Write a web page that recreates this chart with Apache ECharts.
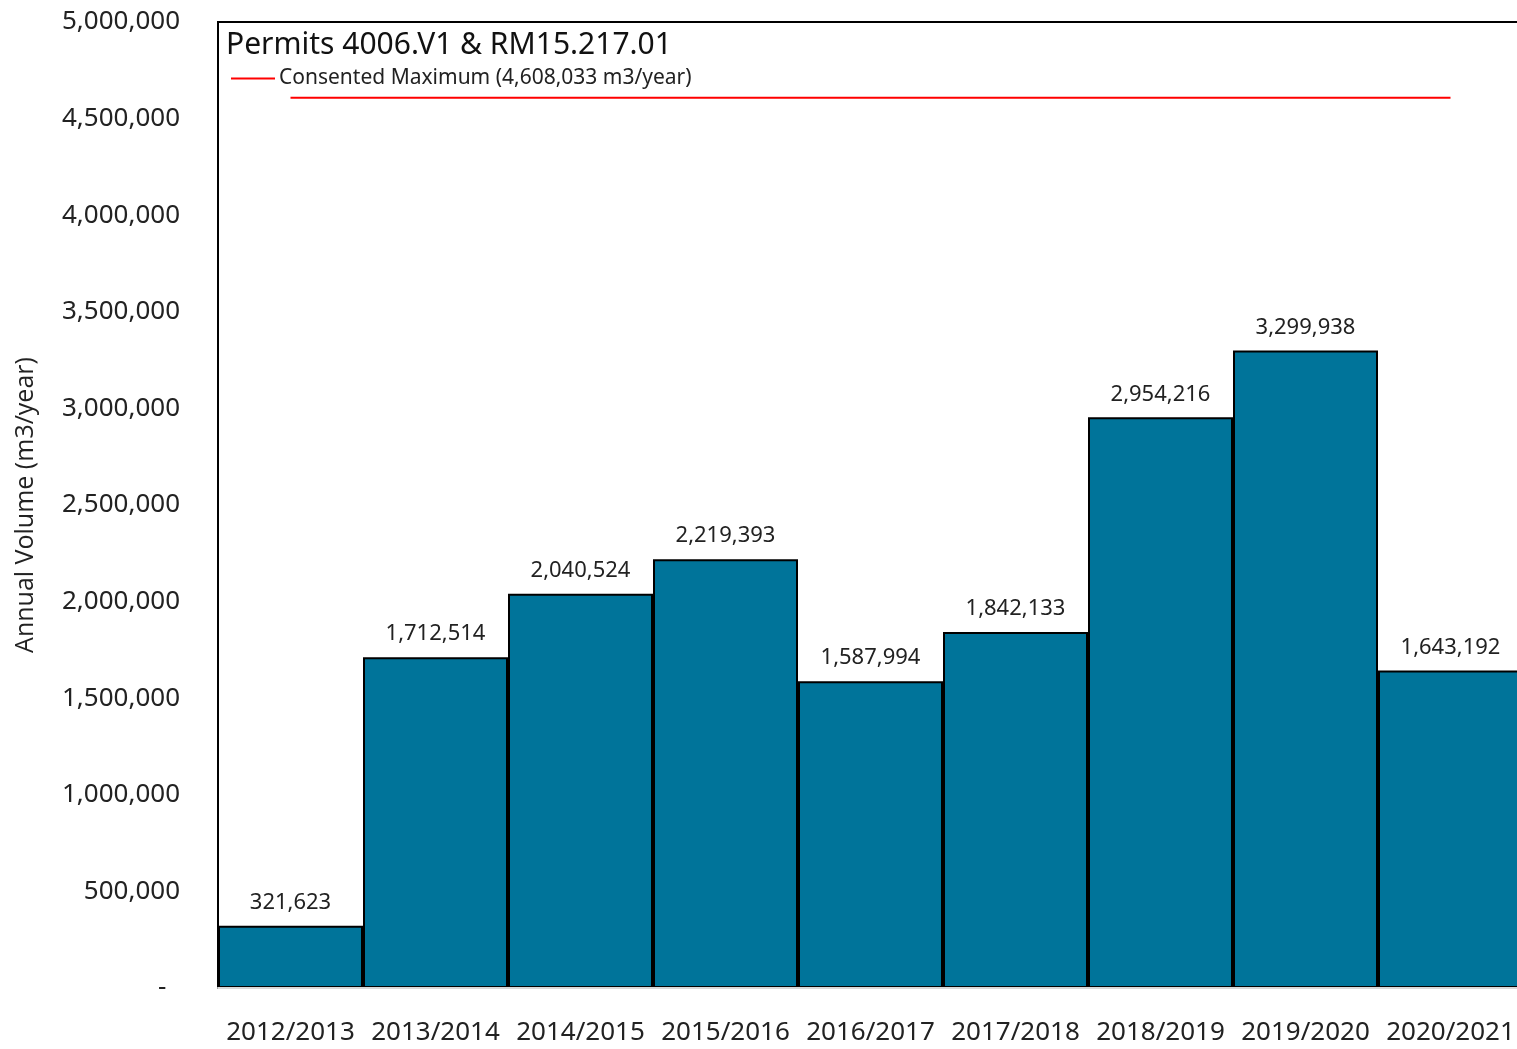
<!DOCTYPE html>
<html>
<head>
<meta charset="utf-8">
<script src="https://cdn.jsdelivr.net/npm/echarts@6/dist/echarts.min.js"></script>
<style>
  html, body { margin: 0; padding: 0; background: #fff; overflow: hidden; }
  #chart { width: 1517px; height: 1049px; }
</style>
</head>
<body>
<div id="chart"></div>
<script>
// Annual abstraction volumes per water year
const years = ['2012/2013', '2013/2014', '2014/2015', '2015/2016', '2016/2017',
               '2017/2018', '2018/2019', '2019/2020', '2020/2021'];
const annualVolume = [321623, 1712514, 2040524, 2219393, 1587994,
                      1842133, 2954216, 3299938, 1643192];
const consentedMax = 4608033;
const consentedLine = years.map(() => consentedMax);

const titleText = 'Permits 4006.V1 & RM15.217.01';
const legendName = 'Consented Maximum (4,608,033 m3/year)';
const yAxisName = 'Annual Volume (m3/year)';

const fmt = v => v.toLocaleString('en-US');
const mainFont = '"Noto Sans", sans-serif';

const chart = echarts.init(document.getElementById('chart'));
chart.setOption({
  animation: false,
  backgroundColor: '#ffffff',
  title: {
    text: titleText,
    left: 221,
    top: 25,
    textStyle: { fontFamily: mainFont, fontSize: 30, fontWeight: 'normal', color: '#111' }
  },
  legend: {
    data: [{ name: legendName, icon: 'rect' }],
    left: 226,
    top: 63,
    itemWidth: 44,
    itemHeight: 2,
    itemGap: 6,
    textStyle: { fontFamily: mainFont, fontSize: 21, color: '#222', padding: [0, 0, 0, -1] }
  },
  grid: {
    left: 218,
    width: 1305,
    top: 22,
    bottom: 61,
    outerBoundsMode: 'none',
    show: true,
    borderColor: '#000',
    borderWidth: 2
  },
  xAxis: {
    type: 'category',
    data: years,
    z: 3,
    axisLine: { show: true, lineStyle: { color: '#D9D9D9', width: 2 } },
    axisTick: { show: false },
    axisLabel: {
      interval: 0,
      margin: 32,
      fontFamily: mainFont,
      fontSize: 26,
      color: '#222'
    }
  },
  yAxis: {
    type: 'value',
    min: 0,
    max: 5000000,
    interval: 500000,
    name: yAxisName,
    nameLocation: 'middle',
    nameGap: 180,
    nameTextStyle: { fontFamily: '"Open Sans", sans-serif', fontSize: 25, color: '#222' },
    axisLine: { show: false },
    axisTick: { show: false },
    splitLine: { show: false },
    axisLabel: {
      margin: 38,
      fontFamily: mainFont,
      fontSize: 26,
      color: '#222',
      formatter: v => (v === 0 ? '-  ' : fmt(v))
    }
  },
  series: [
    {
      name: 'Annual Volume',
      type: 'bar',
      data: annualVolume,
      barCategoryGap: 0,
      itemStyle: { color: '#00749A', borderColor: '#000', borderWidth: 2 },
      label: {
        show: true,
        position: 'top',
        distance: 12,
        fontFamily: mainFont,
        fontSize: 22,
        color: '#222',
        formatter: p => fmt(p.value)
      }
    },
    {
      name: legendName,
      type: 'line',
      data: consentedLine,
      symbol: 'none',
      lineStyle: { color: '#FF0000', width: 2 },
      itemStyle: { color: '#FF0000' },
      z: 5
    }
  ]
});
</script>
</body>
</html>
